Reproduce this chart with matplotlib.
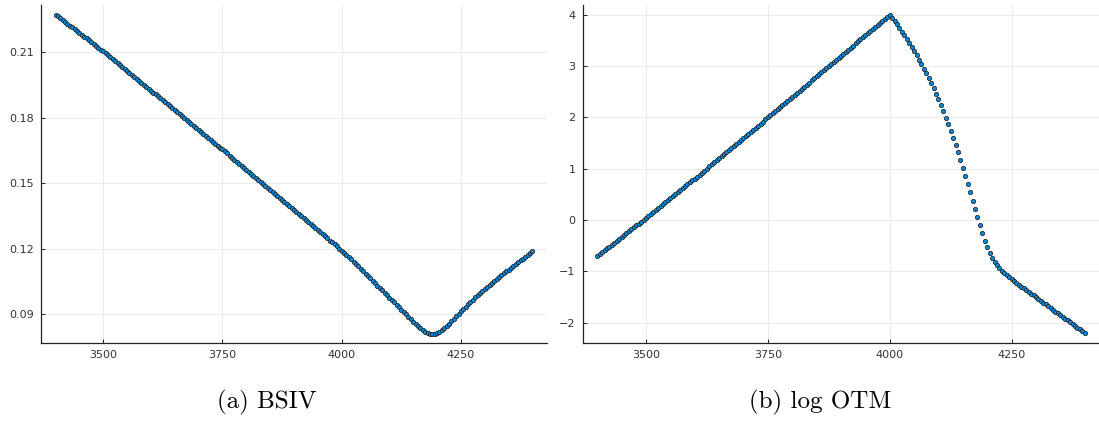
import numpy as np
import matplotlib.pyplot as plt

# strike grid, 5-point spacing
strikes = np.arange(3400, 4401, 5)

bsiv = [
    0.2273, 0.2265, 0.2256, 0.2248, 0.2239, 0.2231, 0.2223, 0.2214, 0.2206, 0.2197,
    0.2189, 0.2181, 0.2172, 0.2164, 0.2155, 0.2147, 0.2139, 0.2130, 0.2122, 0.2113,
    0.2105, 0.2096, 0.2087, 0.2078, 0.2069, 0.2060, 0.2051, 0.2042, 0.2033, 0.2024,
    0.2015, 0.2006, 0.1997, 0.1988, 0.1979, 0.1970, 0.1961, 0.1952, 0.1943, 0.1934,
    0.1925, 0.1916, 0.1907, 0.1898, 0.1889, 0.1880, 0.1871, 0.1862, 0.1853, 0.1844,
    0.1835, 0.1826, 0.1817, 0.1808, 0.1799, 0.1790, 0.1781, 0.1772, 0.1763, 0.1754,
    0.1745, 0.1736, 0.1727, 0.1718, 0.1709, 0.1700, 0.1691, 0.1682, 0.1673, 0.1664,
    0.1655, 0.1646, 0.1637, 0.1627, 0.1618, 0.1609, 0.1599, 0.1590, 0.1581, 0.1572,
    0.1562, 0.1553, 0.1544, 0.1535, 0.1525, 0.1516, 0.1507, 0.1498, 0.1488, 0.1479,
    0.1470, 0.1461, 0.1451, 0.1442, 0.1433, 0.1424, 0.1414, 0.1405, 0.1396, 0.1386,
    0.1377, 0.1368, 0.1359, 0.1349, 0.1340, 0.1331, 0.1322, 0.1312, 0.1303, 0.1294,
    0.1285, 0.1275, 0.1266, 0.1257, 0.1248, 0.1238, 0.1229, 0.1220, 0.1211, 0.1201,
    0.1192, 0.1182, 0.1172, 0.1162, 0.1152, 0.1141, 0.1130, 0.1119, 0.1108, 0.1097,
    0.1086, 0.1075, 0.1064, 0.1053, 0.1042, 0.1031, 0.1020, 0.1009, 0.0998, 0.0987,
    0.0976, 0.0965, 0.0954, 0.0943, 0.0932, 0.0921, 0.0910, 0.0899, 0.0888, 0.0877,
    0.0866, 0.0855, 0.0845, 0.0835, 0.0826, 0.0819, 0.0814, 0.0811, 0.0810, 0.0811,
    0.0814, 0.0819, 0.0827, 0.0836, 0.0846, 0.0857, 0.0868, 0.0879, 0.0890, 0.0901,
    0.0913, 0.0924, 0.0934, 0.0945, 0.0956, 0.0967, 0.0977, 0.0987, 0.0997, 0.1007,
    0.1017, 0.1026, 0.1035, 0.1044, 0.1053, 0.1062, 0.1071, 0.1079, 0.1088, 0.1096,
    0.1105, 0.1113, 0.1122, 0.1130, 0.1138, 0.1147, 0.1155, 0.1163, 0.1171, 0.1179,
    0.1188,
]

log_otm = [
    -0.700, -0.663, -0.626, -0.589, -0.552, -0.515, -0.478, -0.441, -0.404, -0.367,
    -0.330, -0.293, -0.255, -0.218, -0.180, -0.143, -0.105, -0.068, -0.030, 0.008,
    0.045, 0.083, 0.121, 0.159, 0.197, 0.235, 0.273, 0.311, 0.349, 0.387,
    0.425, 0.464, 0.502, 0.541, 0.579, 0.618, 0.656, 0.695, 0.733, 0.772,
    0.810, 0.849, 0.888, 0.927, 0.966, 1.005, 1.044, 1.083, 1.122, 1.161,
    1.200, 1.240, 1.280, 1.320, 1.360, 1.400, 1.440, 1.480, 1.520, 1.560,
    1.600, 1.640, 1.680, 1.720, 1.760, 1.800, 1.840, 1.880, 1.920, 1.960,
    2.000, 2.040, 2.080, 2.120, 2.160, 2.200, 2.240, 2.280, 2.320, 2.360,
    2.400, 2.440, 2.480, 2.520, 2.560, 2.600, 2.640, 2.680, 2.720, 2.760,
    2.800, 2.840, 2.880, 2.920, 2.960, 3.000, 3.040, 3.080, 3.120, 3.160,
    3.200, 3.240, 3.280, 3.320, 3.360, 3.400, 3.440, 3.480, 3.520, 3.560,
    3.600, 3.640, 3.680, 3.720, 3.760, 3.800, 3.840, 3.880, 3.920, 3.960,
    4.000, 3.940, 3.876, 3.810, 3.742, 3.672, 3.600, 3.526, 3.450, 3.372,
    3.292, 3.210, 3.126, 3.040, 2.952, 2.862, 2.768, 2.670, 2.568, 2.462,
    2.352, 2.238, 2.120, 1.998, 1.872, 1.742, 1.606, 1.466, 1.322, 1.174,
    1.022, 0.866, 0.706, 0.544, 0.381, 0.219, 0.058, -0.100, -0.253, -0.398,
    -0.533, -0.650, -0.745, -0.820, -0.882, -0.937, -0.987, -1.033, -1.076, -1.116,
    -1.154, -1.190, -1.225, -1.259, -1.294, -1.329, -1.364, -1.399, -1.433, -1.468,
    -1.503, -1.538, -1.573, -1.607, -1.642, -1.677, -1.712, -1.747, -1.781, -1.816,
    -1.851, -1.886, -1.921, -1.955, -1.990, -2.025, -2.060, -2.095, -2.129, -2.164,
    -2.199,
]

xticks = [3500, 3750, 4000, 4250]
bsiv_ticks = [0.09, 0.12, 0.15, 0.18, 0.21]
otm_ticks = [-2, -1, 0, 1, 2, 3, 4]
captions = ["(a) BSIV", "(b) log OTM"]

marker_color = "#0a86d8"


def style_axis(ax):
    ax.spines[["top", "right"]].set_visible(False)
    for side in ("left", "bottom"):
        ax.spines[side].set_linewidth(0.9)
        ax.spines[side].set_color("#222222")
    ax.tick_params(direction="in", length=3, width=0.7, color="#222222",
                   labelsize=8, labelcolor="#333333", pad=5)
    ax.grid(True, color="#ebebeb", linewidth=0.7)
    ax.set_axisbelow(True)
    ax.set_xlim(3370, 4430)
    ax.set_xticks(xticks)


def draw_points(ax, y):
    ax.scatter(strikes, y, s=10, c=marker_color, edgecolors="#1a1a1a",
               linewidths=0.5, zorder=3)


fig = plt.figure(figsize=(10.99, 4.23), dpi=100)
ax1 = fig.add_axes([0.0375, 0.1884, 0.4600, 0.7998])
ax2 = fig.add_axes([0.5301, 0.1884, 0.4702, 0.7998])

draw_points(ax1, bsiv)
style_axis(ax1)
ax1.set_ylim(0.0767, 0.2317)
ax1.set_yticks(bsiv_ticks)
ax1.set_yticklabels([f"{t:.2f}" for t in bsiv_ticks])

draw_points(ax2, log_otm)
style_axis(ax2)
ax2.set_ylim(-2.40, 4.19)
ax2.set_yticks(otm_ticks)

fig.text(0.243, 0.0355, captions[0], fontfamily="cmr10", fontsize=18,
         ha="center", va="baseline")
fig.text(0.746, 0.0355, captions[1], fontfamily="cmr10", fontsize=18,
         ha="center", va="baseline")

fig.savefig("out.png", dpi=100)
